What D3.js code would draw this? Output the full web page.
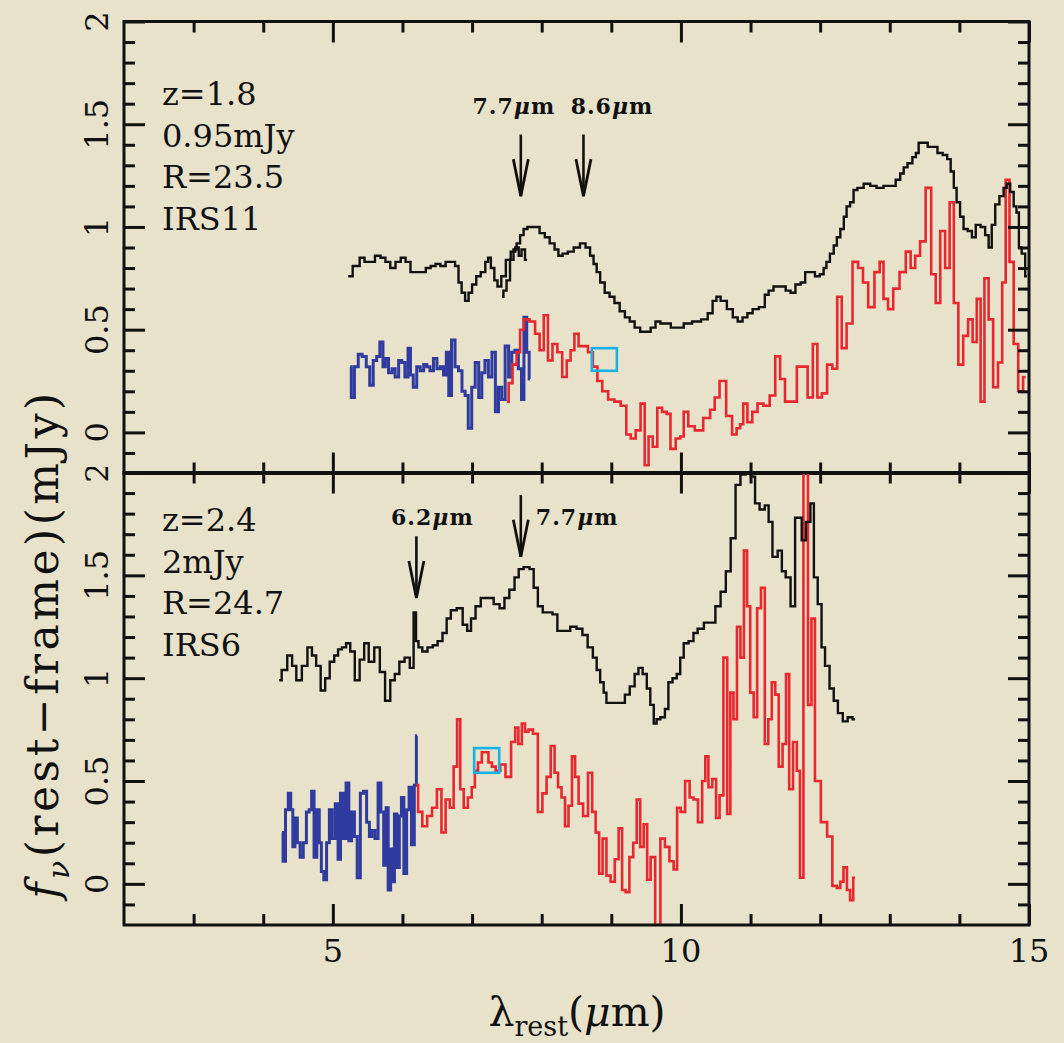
<!DOCTYPE html>
<html>
<head>
<meta charset="utf-8">
<script src="https://cdn.jsdelivr.net/npm/d3@7"></script>
<style>
  body { margin: 0; background: #e7e2c9; }
  svg { display: block; }
  text { font-family: 'DejaVu Serif', serif; fill: #111; }
</style>
</head>
<body>
<div class="chart"></div>
<script>
// ---- data ----
// upper panel: z=1.8 source, IRS11
const topBlackAWave = [5.22,5.35,5.42,5.49,5.56,5.65,5.72,5.79,5.86,5.94,6.01,6.08,6.15,6.22,6.30,6.37,6.44,6.51,6.58,6.66,6.73,6.78,6.83,6.87,6.93,6.97,7.03,7.09,7.16,7.22,7.24,7.30,7.34,7.39,7.45,7.52,7.59,7.65,7.69,7.73,7.79];
const topBlackAFlux = [0.76,0.81,0.85,0.83,0.83,0.86,0.85,0.83,0.80,0.83,0.85,0.83,0.78,0.78,0.78,0.80,0.81,0.82,0.81,0.83,0.83,0.81,0.73,0.68,0.64,0.68,0.72,0.76,0.78,0.83,0.85,0.80,0.74,0.71,0.76,0.84,0.88,0.90,0.86,0.89,0.84];

const topBlackBWave = [7.43,7.47,7.52,7.57,7.62,7.66,7.72,7.76,7.83,7.93,8.01,8.08,8.15,8.22,8.26,8.34,8.41,8.51,8.59,8.67,8.72,8.77,8.81,8.87,8.94,9.01,9.08,9.16,9.23,9.30,9.37,9.46,9.53,9.60,9.67,9.74,9.82,9.89,9.99,10.09,10.23,10.35,10.42,10.49,10.53,10.61,10.71,10.78,10.85,10.92,10.99,11.07,11.17,11.24,11.28,11.38,11.47,11.54,11.61,11.68,11.76,11.81,11.89,11.96,12.03,12.07,12.11,12.17,12.22,12.26,12.32,12.36,12.40,12.46,12.50,12.57,12.68,12.76,12.86,12.96,13.05,13.12,13.18,13.22,13.29,13.36,13.39,13.44,13.51,13.58,13.65,13.72,13.80,13.85,13.90,13.94,13.98,14.04,14.08,14.16,14.20,14.27,14.34,14.40,14.44,14.49,14.54,14.61,14.66,14.70,14.76,14.80,14.84,14.87,14.92,14.97];
const topBlackBFlux = [0.66,0.69,0.74,0.84,0.89,0.92,0.96,0.99,1.00,1.00,0.97,0.95,0.92,0.89,0.86,0.87,0.88,0.90,0.92,0.90,0.86,0.82,0.78,0.73,0.68,0.66,0.63,0.59,0.56,0.54,0.51,0.49,0.49,0.51,0.54,0.53,0.53,0.51,0.51,0.53,0.54,0.55,0.58,0.64,0.66,0.64,0.60,0.56,0.54,0.56,0.58,0.60,0.61,0.67,0.69,0.71,0.71,0.69,0.68,0.72,0.73,0.78,0.78,0.76,0.77,0.80,0.83,0.87,0.91,0.95,0.99,1.05,1.10,1.12,1.18,1.19,1.21,1.20,1.19,1.20,1.20,1.23,1.26,1.29,1.31,1.34,1.36,1.41,1.41,1.39,1.39,1.36,1.35,1.33,1.27,1.19,1.12,1.05,0.99,0.98,0.95,1.01,1.00,0.96,0.90,1.01,1.11,1.15,1.19,1.21,1.17,1.10,1.07,0.90,0.87,0.76];

const topBlueWave = [5.25,5.28,5.34,5.39,5.45,5.51,5.55,5.61,5.65,5.70,5.74,5.77,5.83,5.87,5.92,5.97,6.01,6.06,6.10,6.13,6.18,6.23,6.28,6.33,6.37,6.42,6.47,6.52,6.57,6.61,6.65,6.68,6.73,6.78,6.83,6.88,6.92,6.97,7.02,7.07,7.12,7.16,7.21,7.26,7.31,7.36,7.40,7.45,7.50,7.55,7.59,7.64,7.69,7.73,7.76,7.81,7.83];
const topBlueFlux = [0.32,0.17,0.32,0.38,0.37,0.32,0.23,0.35,0.37,0.44,0.32,0.36,0.29,0.31,0.27,0.35,0.34,0.27,0.41,0.28,0.22,0.32,0.30,0.33,0.32,0.30,0.36,0.31,0.32,0.28,0.39,0.18,0.45,0.32,0.30,0.20,0.18,0.02,0.22,0.34,0.17,0.29,0.35,0.27,0.39,0.10,0.22,0.16,0.42,0.27,0.39,0.40,0.31,0.16,0.56,0.39,0.26];

const topRedWave = [7.50,7.55,7.61,7.67,7.71,7.78,7.87,7.94,8.00,8.06,8.12,8.19,8.26,8.33,8.39,8.44,8.50,8.56,8.63,8.70,8.77,8.83,8.91,9.00,9.09,9.18,9.25,9.31,9.39,9.45,9.51,9.56,9.63,9.69,9.77,9.82,9.88,9.97,10.01,10.07,10.14,10.26,10.38,10.46,10.51,10.60,10.70,10.77,10.83,10.87,10.92,10.99,11.06,11.14,11.23,11.32,11.39,11.46,11.53,11.62,11.71,11.78,11.86,11.93,11.99,12.06,12.14,12.21,12.28,12.34,12.42,12.51,12.58,12.65,12.73,12.83,12.88,12.94,13.01,13.09,13.19,13.27,13.33,13.40,13.47,13.56,13.63,13.69,13.76,13.83,13.89,13.95,14.02,14.09,14.16,14.22,14.28,14.33,14.39,14.45,14.52,14.59,14.64,14.69,14.75,14.81,14.88,14.95];
const topRedFlux = [0.15,0.24,0.33,0.39,0.50,0.55,0.54,0.48,0.40,0.57,0.35,0.43,0.39,0.27,0.35,0.40,0.48,0.42,0.42,0.39,0.32,0.25,0.20,0.16,0.15,0.13,-0.01,-0.03,0.01,0.14,-0.16,-0.02,-0.07,0.12,0.10,0.09,-0.08,-0.03,-0.02,0.10,0.03,0.01,0.07,0.11,0.17,0.25,0.08,-0.01,0.02,0.04,0.14,0.05,0.10,0.14,0.13,0.18,0.37,0.26,0.15,0.15,0.32,0.32,0.17,0.43,0.17,0.19,0.33,0.31,0.66,0.41,0.53,0.83,0.80,0.73,0.61,0.78,0.83,0.65,0.60,0.70,0.78,0.88,0.80,0.86,0.93,1.19,0.77,0.63,0.98,0.80,1.12,0.63,0.33,0.47,0.55,0.44,0.65,0.15,0.75,0.55,0.22,0.34,0.73,1.23,0.83,0.43,0.20,0.27];

// lower panel: z=2.4 source, IRS6
const botBlackWave = [4.23,4.30,4.39,4.44,4.51,4.60,4.67,4.73,4.79,4.86,4.92,4.99,5.05,5.10,5.16,5.22,5.28,5.35,5.42,5.48,5.55,5.64,5.71,5.79,5.86,5.92,5.99,6.07,6.14,6.18,6.21,6.25,6.32,6.40,6.47,6.54,6.61,6.66,6.73,6.83,6.90,6.96,7.01,7.09,7.16,7.26,7.36,7.43,7.50,7.57,7.65,7.69,7.79,7.86,7.91,7.98,8.05,8.12,8.19,8.26,8.37,8.45,8.55,8.62,8.70,8.77,8.81,8.87,8.91,8.95,9.05,9.16,9.23,9.30,9.37,9.41,9.49,9.53,9.59,9.63,9.67,9.74,9.80,9.84,9.92,9.96,10.02,10.06,10.16,10.20,10.28,10.38,10.46,10.53,10.61,10.68,10.75,10.82,10.89,10.97,11.04,11.09,11.17,11.24,11.28,11.35,11.43,11.47,11.54,11.61,11.67,11.71,11.76,11.83,11.89,11.93,12.00,12.04,12.10,12.17,12.22,12.29,12.36,12.43,12.50];
const botBlackFlux = [0.99,1.04,1.11,1.06,0.99,1.06,1.15,1.11,1.06,0.94,1.00,1.08,1.11,1.14,1.15,1.17,1.13,0.99,1.09,1.17,1.08,1.15,1.03,0.89,0.99,1.02,1.08,1.10,1.05,1.32,1.18,1.15,1.13,1.15,1.16,1.18,1.22,1.29,1.33,1.34,1.26,1.23,1.29,1.35,1.39,1.39,1.36,1.34,1.39,1.43,1.49,1.53,1.54,1.53,1.44,1.35,1.32,1.32,1.31,1.23,1.23,1.25,1.24,1.21,1.15,1.10,1.04,0.98,0.93,0.88,0.88,0.88,0.92,0.96,1.02,1.05,1.02,0.95,0.87,0.78,0.80,0.81,0.85,0.98,1.00,1.02,1.10,1.17,1.18,1.22,1.24,1.27,1.27,1.35,1.42,1.52,1.68,1.94,1.99,2.03,1.98,1.85,1.82,1.84,1.76,1.59,1.62,1.52,1.49,1.35,1.78,1.78,1.67,1.76,1.85,1.49,1.36,1.15,1.06,0.95,0.89,0.83,0.79,0.81,0.80];

const botBlueWave = [4.27,4.30,4.34,4.38,4.41,4.44,4.47,4.51,4.55,4.60,4.64,4.68,4.71,4.75,4.79,4.82,4.85,4.89,4.93,4.97,5.01,5.06,5.09,5.13,5.17,5.21,5.25,5.29,5.33,5.37,5.42,5.46,5.51,5.54,5.58,5.63,5.67,5.71,5.75,5.78,5.81,5.85,5.87,5.90,5.94,5.97,6.00,6.04,6.08,6.11,6.15,6.19,6.21];
const botBlueFlux = [0.25,0.11,0.36,0.44,0.36,0.18,0.32,0.20,0.13,0.20,0.35,0.36,0.45,0.13,0.36,0.20,0.06,0.02,0.20,0.36,0.22,0.39,0.12,0.44,0.22,0.49,0.21,0.35,0.23,0.03,0.44,0.45,0.30,0.23,0.26,0.22,0.49,0.35,0.09,0.37,-0.03,0.17,0.01,0.34,0.08,0.33,0.42,0.05,0.36,0.47,0.19,0.48,0.72];

const botRedWave = [6.20,6.25,6.32,6.39,6.46,6.53,6.59,6.65,6.71,6.76,6.81,6.85,6.91,6.97,7.02,7.06,7.11,7.17,7.21,7.26,7.31,7.37,7.44,7.52,7.60,7.64,7.69,7.74,7.78,7.84,7.91,7.98,8.04,8.10,8.16,8.21,8.26,8.31,8.36,8.41,8.46,8.50,8.56,8.63,8.70,8.75,8.80,8.85,8.90,8.96,9.02,9.08,9.13,9.18,9.23,9.29,9.34,9.39,9.44,9.49,9.54,9.59,9.67,9.74,9.80,9.87,9.92,9.97,10.02,10.10,10.15,10.21,10.28,10.33,10.37,10.42,10.48,10.53,10.58,10.64,10.69,10.73,10.78,10.83,10.88,10.93,10.97,11.02,11.07,11.12,11.18,11.23,11.28,11.33,11.38,11.43,11.49,11.53,11.58,11.64,11.69,11.73,11.79,11.86,11.89,11.96,12.06,12.14,12.21,12.27,12.31,12.36,12.41,12.45,12.50];
const botRedFlux = [0.48,0.35,0.28,0.33,0.37,0.46,0.25,0.41,0.37,0.57,0.80,0.46,0.37,0.42,0.47,0.55,0.59,0.64,0.64,0.59,0.57,0.55,0.58,0.52,0.69,0.76,0.68,0.78,0.74,0.75,0.73,0.35,0.44,0.52,0.67,0.54,0.47,0.42,0.28,0.38,0.62,0.52,0.39,0.33,0.54,0.35,0.25,0.05,0.22,0.04,0.01,0.12,0.27,-0.03,-0.04,0.13,0.20,0.41,0.18,0.29,0.02,0.13,-0.26,0.22,0.18,0.11,0.07,0.37,0.35,0.50,0.42,0.41,0.30,0.50,0.62,0.47,0.51,0.32,0.43,1.10,0.34,0.93,0.80,1.25,1.10,1.62,1.35,0.93,0.81,1.34,1.44,0.68,0.80,0.98,0.92,0.57,0.68,1.02,0.46,0.69,0.55,0.03,2.20,0.87,1.29,0.50,0.30,0.23,-0.01,-0.02,0.01,0.08,-0.03,-0.08,0.03];

// photometry boxes [x0, x1, y0, y1]
const topBox = [8.72, 9.08, 0.30, 0.41];
const botBox = [7.03, 7.39, 0.54, 0.66];

// annotations
const topNotes = ['z=1.8', '0.95mJy', 'R=23.5', 'IRS11'];
const botNotes = ['z=2.4', '2mJy', 'R=24.7', 'IRS6'];
const topFeatures = [7.7, 8.6];
const botFeatures = [6.2, 7.7];

// axis ticks
const xTicks = [5, 10, 15];
const yTicks = [0, 0.5, 1, 1.5, 2];

// ---- layout ----
const svgW = 1064, svgH = 1043;
const x = d3.scaleLinear([2, 15], [124, 1029]);

const panels = [
  { id: 'top', y0: 21.5, y1: 473.5,
    curves: [
      { wave: topBlueWave, flux: topBlueFlux, color: '#2f3b9e', width: 3 },
      { wave: topRedWave, flux: topRedFlux, color: '#e8282e', width: 2.6 },
      { wave: topBlackAWave, flux: topBlackAFlux, color: '#111', width: 2.4 },
      { wave: topBlackBWave, flux: topBlackBFlux, color: '#111', width: 2.4 }
    ],
    box: topBox, notes: topNotes, noteY: 105,
    feats: topFeatures, featFrom: [1.45, 1.45], featTo: [1.15, 1.15],
    featLabelX: [7.60, 9.01], featLabelY: 1.55 },
  { id: 'bot', y0: 472.5, y1: 925,
    curves: [
      { wave: botBlueWave, flux: botBlueFlux, color: '#2f3b9e', width: 3 },
      { wave: botRedWave, flux: botRedFlux, color: '#e8282e', width: 2.6 },
      { wave: botBlackWave, flux: botBlackFlux, color: '#111', width: 2.4 }
    ],
    box: botBox, notes: botNotes, noteY: 531,
    feats: botFeatures, featFrom: [1.69, 1.89], featTo: [1.39, 1.59],
    featLabelX: [6.43, 8.51], featLabelY: 1.745 }
];

const svg = d3.select('.chart').append('svg')
  .attr('width', svgW).attr('height', svgH);

svg.append('rect').attr('width', svgW).attr('height', svgH).attr('fill', '#e7e2c9');

function drawPanel(p, i) {
  const y = d3.scaleLinear([-0.2, 2], [p.y1, p.y0]);
  const g = svg.append('g').attr('class', 'panel-' + p.id);

  // clip to the panel box
  svg.append('clipPath').attr('id', 'clip-' + p.id).append('rect')
    .attr('x', x(2)).attr('y', p.y0)
    .attr('width', x(15) - x(2)).attr('height', p.y1 - p.y0);

  const plot = g.append('g').attr('clip-path', `url(#clip-${p.id})`);
  const line = d3.line().x(d => x(d[0])).y(d => y(d[1])).curve(d3.curveStep);

  p.curves.forEach(c => {
    plot.append('path').datum(d3.zip(c.wave, c.flux))
      .attr('d', line)
      .attr('fill', 'none')
      .attr('stroke', c.color)
      .attr('stroke-width', c.width)
      .attr('stroke-linejoin', 'miter');
  });

  // cyan photometry box
  plot.append('rect')
    .attr('x', x(p.box[0])).attr('y', y(p.box[3]))
    .attr('width', x(p.box[1]) - x(p.box[0]))
    .attr('height', y(p.box[2]) - y(p.box[3]))
    .attr('fill', 'none').attr('stroke', '#19b2e8').attr('stroke-width', 2.6);

  // ticks: all four sides, pointing inward
  const xMinor = d3.range(3, 15).filter(v => !xTicks.includes(v));
  const yMinor = d3.range(-1, 20).map(k => k / 10).filter(v => !yTicks.includes(v));
  const sides = [
    [d3.axisBottom, `translate(0,${p.y1})`, x],
    [d3.axisTop, `translate(0,${p.y0})`, x],
    [d3.axisLeft, `translate(${x(2)},0)`, y],
    [d3.axisRight, `translate(${x(15)},0)`, y]
  ];
  sides.forEach(([axisFn, tr, sc]) => {
    const isX = sc === x;
    [[isX ? xTicks : yTicks, 21], [isX ? xMinor : yMinor, 11]].forEach(([vals, len]) => {
      const ax = axisFn(sc).tickValues(vals).tickFormat('')
        .tickSizeInner(-len).tickSizeOuter(0);
      const a = g.append('g').attr('transform', tr).call(ax);
      a.select('.domain').remove();
      a.selectAll('line').attr('stroke', '#111').attr('stroke-width', 3);
    });
  });

  // frame
  g.append('rect')
    .attr('x', x(2)).attr('y', p.y0)
    .attr('width', x(15) - x(2)).attr('height', p.y1 - p.y0)
    .attr('fill', 'none').attr('stroke', '#111').attr('stroke-width', 3);

  // y tick labels, rotated like the original
  const labG = g.append('g');
  if (i === 1) {
    svg.append('clipPath').attr('id', 'lab-clip').append('rect')
      .attr('x', 0).attr('y', 467).attr('width', 124).attr('height', 500);
    labG.attr('clip-path', 'url(#lab-clip)');
  }
  labG.selectAll('text').data(yTicks).join('text')
    .attr('transform', d => `translate(108,${y(d)}) rotate(-90)`)
    .attr('text-anchor', 'middle')
    .style('font-size', '32px')
    .text(d => String(d));

  // notes block (top-left)
  g.append('g').selectAll('text').data(p.notes).join('text')
    .attr('x', 162).attr('y', (d, k) => p.noteY + k * 41.5)
    .style('font-size', '32px')
    .text(d => d);

  // feature arrows
  p.feats.forEach((f, k) => {
    const ax0 = x(f), yTop = y(p.featFrom[k]), yTip = y(p.featTo[k]);
    g.append('line').attr('x1', ax0).attr('x2', ax0).attr('y1', yTop).attr('y2', yTip)
      .attr('stroke', '#111').attr('stroke-width', 2.6);
    g.append('path')
      .attr('d', `M${ax0 - 7.5},${yTip - 37}L${ax0},${yTip}L${ax0 + 7.5},${yTip - 37}`)
      .attr('fill', 'none').attr('stroke', '#111').attr('stroke-width', 2.8)
      .attr('stroke-linejoin', 'miter');
    const t = g.append('text')
      .attr('x', x(p.featLabelX[k])).attr('y', y(p.featLabelY))
      .attr('text-anchor', 'middle')
      .style('font-size', '22px').style('font-weight', 'bold').style('letter-spacing', '1px');
    t.append('tspan').text(String(f));
    t.append('tspan').style('font-style', 'italic').text('μ');
    t.append('tspan').text('m');
  });

  if (i === 1) {
    // x tick labels
    g.append('g').selectAll('text').data(xTicks).join('text')
      .attr('x', d => x(d)).attr('y', 962)
      .attr('text-anchor', 'middle')
      .style('font-size', '32px')
      .text(d => d);
  }
}

panels.forEach(drawPanel);

// x title: lambda_rest (mu m)
const xt = svg.append('text').attr('x', 577).attr('y', 1026)
  .attr('text-anchor', 'middle').style('font-size', '41px');
xt.append('tspan').text('λ');
xt.append('tspan').attr('dy', 10).style('font-size', '27px').text('rest');
xt.append('tspan').attr('dy', -10).text('(');
xt.append('tspan').style('font-style', 'italic').text('μ');
xt.append('tspan').text('m)');

// y title: f_nu (rest-frame)(mJy)  -- wide spacing like the original
const yt = svg.append('text').attr('transform', 'translate(58,644) rotate(-90)')
  .attr('text-anchor', 'middle').style('font-size', '44px').style('letter-spacing', '3.5px');
yt.append('tspan').style('font-style', 'italic').text('f');
yt.append('tspan').attr('dy', 11).style('font-size', '30px').style('font-style', 'italic').text('ν');
yt.append('tspan').attr('dy', -11).text('(rest−frame)(mJy)');
</script>
</body>
</html>
